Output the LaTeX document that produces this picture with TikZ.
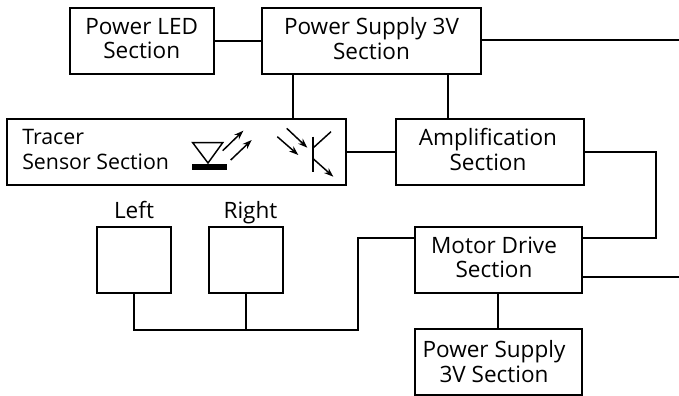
\documentclass[tikz,border=0pt]{standalone}
\usepackage{fontspec}
\setmainfont{Open Sans}
\usetikzlibrary{arrows.meta}

\tikzset{
  block/.style 2 args={draw, line width=1.9pt, inner sep=0pt,
    minimum width=#1*0.75pt, minimum height=#2*0.75pt},
  tag/.style={align=center, inner sep=0pt,
    font=\fontsize{16.9}{18.4}\selectfont},
  wire/.style={line width=1.9pt},
  thinwire/.style={line width=1.3pt},
  symbol/.style={line width=1.1pt},
  ray/.style={line width=1.1pt, -{Stealth[length=7pt,width=5pt]}}
}

\begin{document}
\begin{tikzpicture}[x=0.75pt,y=-0.75pt]
  \useasboundingbox (0,0) rectangle (679,396);

  % Blocks
  \node[block={144}{66}] (led) at (142,41) {};
  \node[block={219}{66}] (supplya) at (371.5,41) {};
  \node[block={339}{66}] (tracer) at (176.5,152) {};
  \node[block={188}{66}] (amp) at (490,152) {};
  \node[block={74}{66}] (left) at (134,260) {};
  \node[block={74}{66}] (right) at (246,260) {};
  \node[block={167}{66}] (motor) at (498.5,260) {};
  \node[block={167}{66}] (supplyb) at (498.5,362) {};

  % Texts
  \node[tag] (ledtext) at (141.7,38.5) {Power LED\\Section};
  \node[tag] (supplyatext) at (371.5,38.5) {Power Supply 3V\\Section};
  \node[tag, align=left, anchor=west, font=\fontsize{16}{18.4}\selectfont] (tracertext) at (22,149.5) {Tracer\\Sensor Section};
  \node[tag] (amptext) at (488,149.5) {Amplification\\Section};
  \node[tag] (motortext) at (494,257.5) {Motor Drive\\Section};
  \node[tag] (supplybtext) at (494,361.5) {Power Supply\\3V Section};
  \node[tag, anchor=base] (lefttext) at (134,218) {Left};
  \node[tag, anchor=base] (righttext) at (250.5,218) {Right};

  % Free ends and bends
  \coordinate (outa) at (679,40);
  \coordinate (outb) at (679,277);
  \coordinate (bus) at (358,330);
  \coordinate (turn) at (656,238);
  \coordinate (feed) at (358,238);

  % Connectors
  \draw[wire] (led) -- (supplya);
  \draw[wire] (supplya.east |- outa) -- (outa);
  \draw[wire] (293,0 |- supplya.south) -- (293,0 |- tracer.north);
  \draw[wire] (448,0 |- supplya.south) -- (448,0 |- amp.north);
  \draw[wire] (tracer) -- (amp);
  \draw[wire] (amp.east) -- (turn |- amp.east) -- (turn) -- (motor.east |- turn);
  \draw[thinwire] (motor.east |- outb) -- (outb);
  \draw[wire] (498,0 |- motor.south) -- (498,0 |- supplyb.north);
  \draw[wire] (motor.west |- feed) -- (feed) -- (bus) -- (left.south |- bus) -- (left.south);
  \draw[wire] (right.south) -- (right.south |- bus);

  % LED symbol
  \draw[symbol] (192.7,142.7) -- (222.7,142.7) -- (208,163) -- cycle;
  \fill (191.7,164) rectangle (226.7,169.5);
  \draw[ray] (222.7,150.7) -- (243.3,130.7);
  \draw[ray] (230.7,160) -- (251.7,140);

  % Phototransistor symbol
  \draw[line width=1.5pt] (312.7,136.7) -- (312.7,171.7);
  \draw[symbol] (312.7,148.3) -- (331,131.7);
  \draw[ray] (312.7,158.3) -- (333.3,176.7);
  \draw[ray] (286.7,128.3) -- (307.3,147.7);
  \draw[ray] (277.3,136.7) -- (298.3,155);
\end{tikzpicture}
\end{document}
